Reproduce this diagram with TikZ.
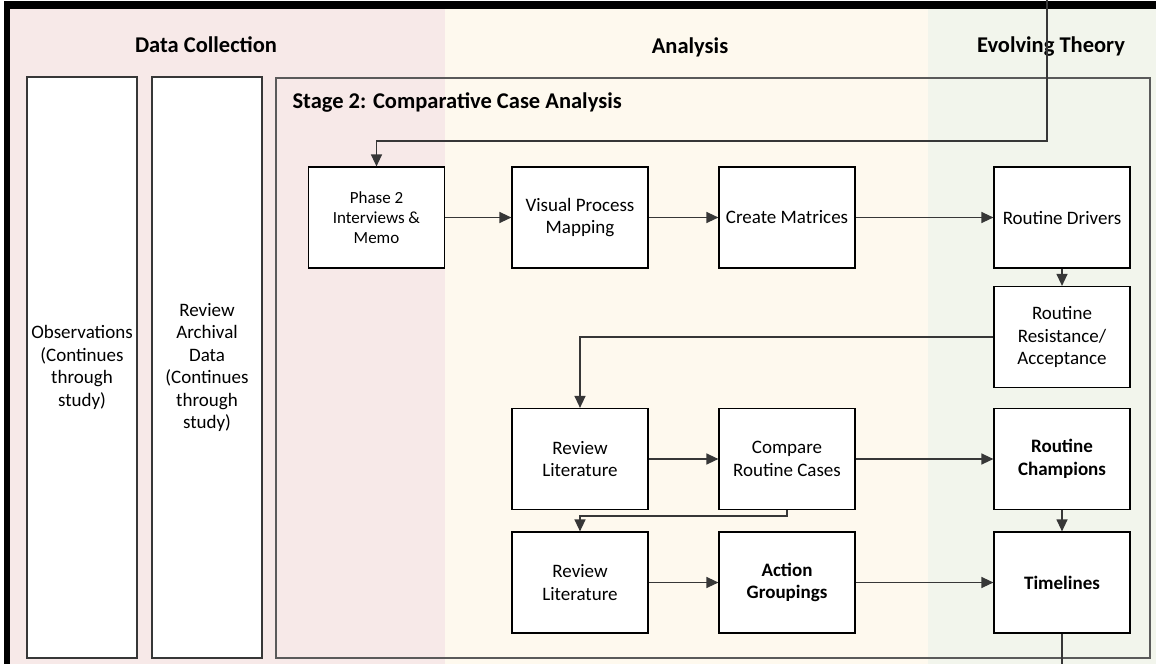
\documentclass[tikz,border=0pt]{standalone}
\usepackage{fontspec}
\setmainfont{Carlito}
\usetikzlibrary{arrows.meta}

\definecolor{bandpink}{RGB}{247,233,232}
\definecolor{bandyellow}{RGB}{254,249,238}
\definecolor{bandgreen}{RGB}{242,245,236}
\definecolor{wire}{RGB}{55,55,55}
\definecolor{frame}{RGB}{90,90,90}

\tikzset{
  procbox/.style={draw=black, line width=1.2pt, fill=white,
    minimum width=136pt, minimum height=101pt, inner sep=2pt,
    align=center, font=\fontsize{19}{22.5}\selectfont},
  tallbox/.style={draw=wire, line width=1.2pt, fill=white,
    minimum width=110pt, minimum height=581pt, inner sep=1pt,
    align=center, font=\fontsize{19}{22.5}\selectfont},
  lanehead/.style={font=\bfseries\fontsize{22.5}{26}\selectfont},
  flow/.style={draw=wire, line width=1.3pt,
    -{Triangle[length=12pt,width=11pt]}},
  plainflow/.style={draw=wire, line width=1.3pt}
}

\begin{document}
\begin{tikzpicture}[x=1pt,y=-1pt]
\useasboundingbox (0,0) rectangle (1156,664);

% lane backgrounds
\fill[bandpink]   (10,8)  rectangle (445,664);
\fill[bandyellow] (445,8) rectangle (928,664);
\fill[bandgreen]  (928,8) rectangle (1156,664);

% heavy outer frame (top and left)
\fill[black] (4,1) rectangle (1156,8.5);
\fill[black] (4,1) rectangle (10,664);

% lane headings
\node[lanehead] (hdata)   at (206,45) {Data Collection};
\node[lanehead] (hanal)   at (690,47) {Analysis};
\node[lanehead] (htheory) at (1051,47) {Evolving Theory};

% continuous data collection
\node[tallbox] (obs) at (82,367.5) {Observations\\(Continues\\through\\study)};
\node[tallbox] (arch) at (207,367.5) {Review\\Archival\\Data\\(Continues\\through\\study)};

% stage frame
\draw[frame, line width=1.2pt] (276,78) rectangle (1150,658);
\node[anchor=west, font=\bfseries\fontsize{22.5}{26}\selectfont] (stage) at (289,102)
  {Stage 2: Comparative Case Analysis};

% process steps
\node[procbox, font=\fontsize{17}{20}\selectfont] (phase) at (376.5,217.5) {Phase 2\\Interviews \&\\Memo};
\node[procbox] (vpm)   at (580,217.5)  {Visual Process\\Mapping};
\node[procbox] (mat)   at (787,217.5)  {Create Matrices};
\node[procbox] (drv)   at (1062,217.5) {Routine Drivers};
\node[procbox] (res)   at (1062,337)   {Routine\\Resistance/\\Acceptance};
\node[procbox] (lit1)  at (580,459)    {Review\\Literature};
\node[procbox] (cmp)   at (787,459)    {Compare\\Routine Cases};
\node[procbox] (champ) at (1062,459)   {\bfseries Routine\\\bfseries Champions};
\node[procbox] (lit2)  at (580,582.5)  {Review\\Literature};
\node[procbox] (act)   at (787,582.5)  {\bfseries Action\\\bfseries Groupings};
\node[procbox] (time)  at (1062,582.5) {\bfseries Timelines};

% loose ends of the flow
\coordinate (entry) at (1047,0);
\coordinate (exit)  at (1062,664);

% connectors
\draw[flow] (entry) -- (1047,141) -| (phase.north);
\draw[flow] (phase) -- (vpm);
\draw[flow] (vpm) -- (mat);
\draw[flow] (mat) -- (drv);
\draw[flow] (drv) -- (res);
\draw[flow] (res.west) -| (lit1.north);
\draw[flow] (lit1) -- (cmp);
\draw[flow] (cmp) -- (champ);
\draw[flow] (cmp.south) -- ++(0,6) -| (lit2.north);
\draw[flow] (lit2) -- (act);
\draw[flow] (act) -- (time);
\draw[flow] (champ) -- (time);
\draw[plainflow] (time.south) -- (exit);
\end{tikzpicture}
\end{document}
